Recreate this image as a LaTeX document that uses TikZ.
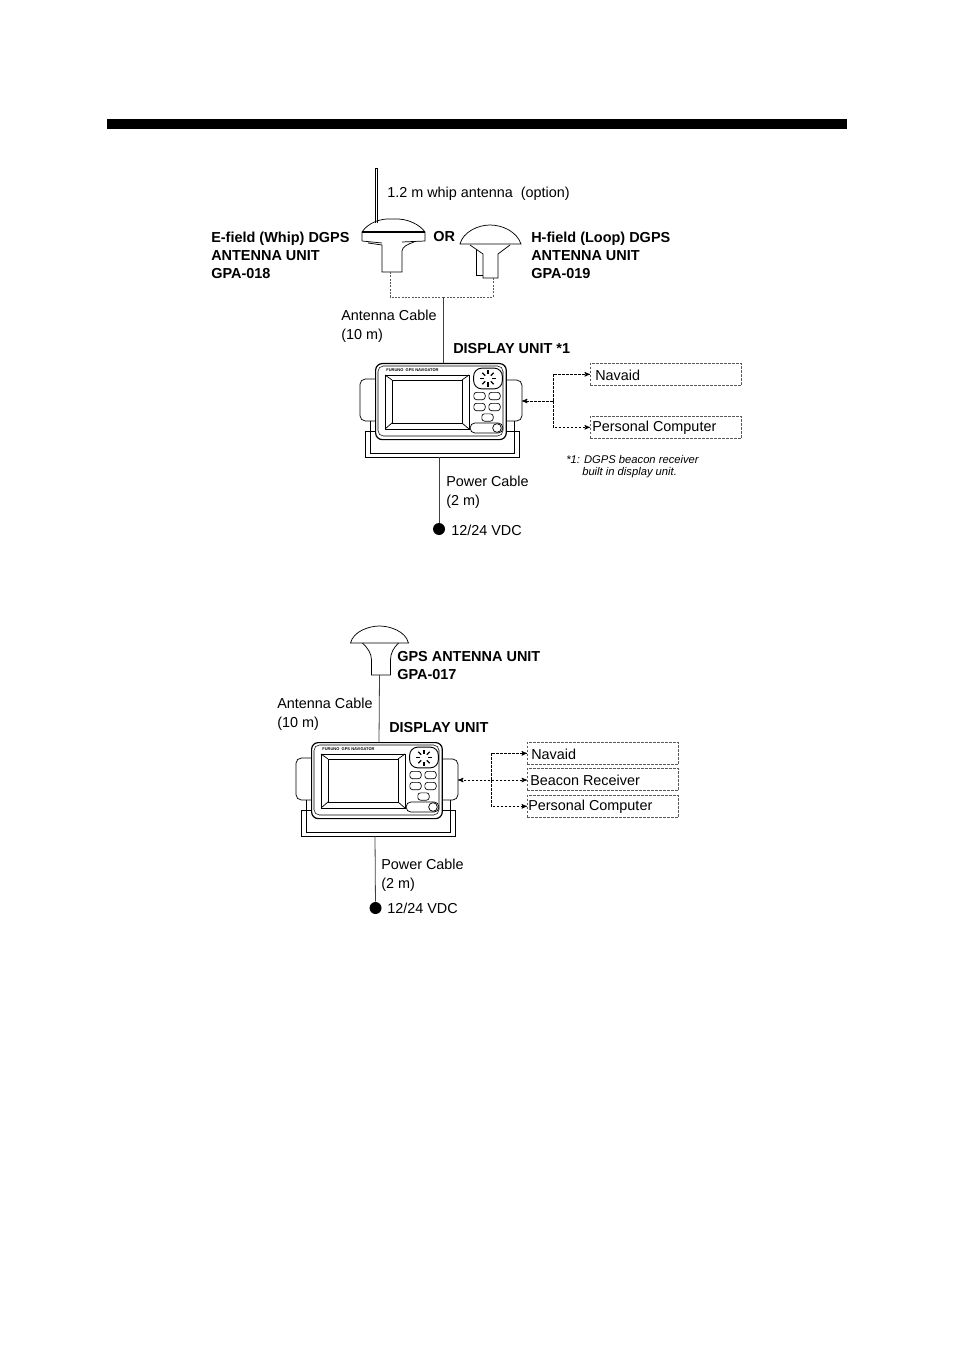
\documentclass[tikz,border=0pt]{standalone}
\usepackage{fontspec}
\setmainfont{Liberation Sans}
\usetikzlibrary{arrows,calc}
\tikzset{
	plain/.style={inner sep=0pt,anchor=west,font=\fontsize{10.8}{13.8}\selectfont},
	heavy/.style={plain,font=\fontsize{10.85}{13.5}\selectfont\bfseries,align=left},
	device/.style={black,line width=.55pt},
	cable/.style={black!75,line width=.6pt},
	dashcable/.style={black,line width=.55pt,dash pattern=on 2pt off 1pt},
	thincable/.style={black!65,line width=.5pt,dash pattern=on 1.5pt off 1pt},
	peripheral/.style={draw=black!65,dash pattern=on 2pt off 1pt,line width=.5pt,minimum width=113.5pt,minimum height=16.5pt,inner sep=0pt},
	key/.style={draw=black,rounded corners=2pt,line width=.5pt,minimum width=8.5pt,minimum height=5.5pt,inner sep=0pt}
}
% one display unit with its stand, #1 = origin, #2 = prefix of the names
\newcommand*\displayunit[2]{
	\begin{scope}[shift={#1},device]
		\draw[rounded corners=4pt] (0,16) -- (-15,16) -- (-15,58) -- (0,58);
		\draw[rounded corners=4pt] (131,17) -- (147,17) -- (147,58) -- (131,58);
		\draw (-10,68) rectangle (144,94);
		\draw (-5,58) -- (-5,90) -- (139,90) -- (139,58);
		\node (#2body) [draw=black,line width=.9pt,fill=white,rounded corners=5pt,inner sep=0pt,minimum width=98pt,minimum height=57pt,anchor=north west] at (0,0) {};
		\draw[rounded corners=4pt,line width=.4pt] (3,3) rectangle (128,73);
		\draw (10,12) rectangle (94,66);
		\draw (17,17) rectangle (87,60);
		\draw (10,12) -- (17,17) (94,12) -- (87,17) (10,66) -- (17,60) (94,66) -- (87,60);
		\node (#2brand) [inner sep=0pt,anchor=west,font=\fontsize{3}{3}\selectfont\bfseries] at (11,7) {FURUNO\ \ GPS NAVIGATOR};
		\node (#2dial) [draw=black,rounded corners=6pt,line width=.7pt,minimum width=21.5pt,minimum height=15.5pt,inner sep=0pt] at (113,15.5) {};
		\foreach \a in {0,45,...,315}
			\draw[line width=1pt] ($(113,15.5)+(\a:4)$) -- ($(113,15.5)+(\a:8)$);
		\node (#2keya) [key] at (104.5,33) {};
		\node (#2keyb) [key] at (119.5,33) {};
		\node (#2keyc) [key] at (104.5,44) {};
		\node (#2keyd) [key] at (119.5,44) {};
		\node (#2keye) [key] at (112.5,54.5) {};
		\node (#2pill) [draw=black,fill=white,rounded corners=3.5pt,minimum width=24.5pt,minimum height=7.5pt,inner sep=0pt] at (111.5,65) {};
		\node (#2power) [draw=black,circle,inner sep=0pt,minimum size=6.5pt] at (122,65) {};
		\coordinate (#2top) at (68,0);
		\coordinate (#2back) at (147,38);
		\coordinate (#2base) at (64,94);
	\end{scope}
}
% dome antenna, #1 = origin at the middle of the dome foot, #2 = name of the cable point
\newcommand*\domeantenna[2]{
	\begin{scope}[shift={#1},device]
		\draw (-29,0) .. controls (-26,-12) and (-10,-17) .. (0,-17) .. controls (10,-17) and (26,-12) .. (29,0) -- cycle;
		\draw (-17,0) .. controls (-12,5) and (-8,10) .. (-8,17) -- (-8,32) -- (11,32) -- (11,17) .. controls (11,10) and (14,5) .. (19,0);
		\coordinate (#2) at (0,32);
	\end{scope}
}
\begin{document}
\begin{tikzpicture}[x=.75pt,y=-.75pt,>=stealth']
	\useasboundingbox (0,0) rectangle (954,1351);
	\node (rule) [fill=black,inner sep=0pt,minimum width=555pt,minimum height=7.5pt,anchor=north west] at (107,119) {};

	% upper system
	\draw[device] (375.5,223) -- (375.5,168) -- (377.5,168) -- (377.5,223);
	\node (whiptext) [plain] at (387,194) {1.2 m whip antenna\ \ (option)};
	\draw[device] (362,241) -- (362,232) .. controls (368,223) and (380,218) .. (393,219) .. controls (408,218) and (420,225) .. (425,232) -- (425,241) -- (402,242);
	\draw[device,line width=.9pt] (362,232) -- (425,232);
	\draw[device] (362,241) -- (382,243) (368,243) -- (382,245);
	\draw[device] (382,245) -- (382,272) -- (402,272) -- (402,251) .. controls (402,247) and (408,244) .. (414,242);
	\coordinate (efoot) at (390,272);

	\draw[device] (460,244) .. controls (463,232) and (478,225) .. (490,225) .. controls (503,225) and (517,232) .. (521,244) -- cycle;
	\draw[device] (470,245) -- (483,254) -- (483,278) -- (498,278) -- (498,254) -- (510,245);
	\draw[device] (476,250) -- (476,275) -- (483,275);
	\coordinate (hfoot) at (493,278);
	\coordinate (split) at (443,297);

	\node (orword) [heavy,anchor=west] at (433,237) {OR};
	\node (eunit) [heavy,anchor=north west] at (211,232) {E-field (Whip) DGPS\\ANTENNA UNIT\\GPA-018};
	\node (hunit) [heavy,anchor=north west] at (531,232) {H-field (Loop) DGPS\\ANTENNA UNIT\\GPA-019};
	\node (cablea) [plain,align=left,anchor=north west] at (341,310) {Antenna Cable\\(10 m)};
	\node (displaya) [heavy] at (453,349) {DISPLAY UNIT *1};

	\displayunit{(375,363)}{a}
	\draw[thincable] (efoot) |- (split);
	\draw[thincable] (hfoot) |- (split);
	\draw[cable] (split) -- (atop);

	\node (navaida) [peripheral,anchor=north west] at (590,363) {};
	\node (navaidatext) [plain] at (595,375) {Navaid};
	\node (pca) [peripheral,anchor=north west] at (590,416) {};
	\node (pcatext) [plain] at (592,428) {Personal Computer};
	\coordinate (huba) at (553,401);
	\draw[dashcable,->] (huba) -- (aback);
	\draw[dashcable,->] (huba) |- (navaida.west);
	\draw[dashcable,->] (huba) |- (pca.west);
	\node (notea) [plain,anchor=north west,font=\fontsize{8.4}{9.4}\selectfont\itshape,align=left] at (566,455) {*1: DGPS beacon receiver\\\hspace*{12pt}built in display unit.};

	\node (powera) [plain,align=left,anchor=north west] at (446,476) {Power Cable\\(2 m)};
	\node (dota) [fill=black,circle,inner sep=0pt,minimum size=9pt] at (439,529) {};
	\draw[cable] (abase) -- (dota);
	\node (vdca) [plain] at (451,530) {12/24 VDC};

	% lower system
	\domeantenna{(379.5,643)}{gpsfoot}
	\node (gpsunit) [heavy,anchor=north west] at (397,651) {GPS ANTENNA UNIT\\GPA-017};
	\node (cableb) [plain,align=left,anchor=north west] at (277,698) {Antenna Cable\\(10 m)};
	\node (displayb) [heavy] at (389,728) {DISPLAY UNIT};

	\displayunit{(311,742)}{b}
	\draw[cable] (gpsfoot) -- (btop);

	\node (navaidb) [peripheral,anchor=north west] at (527,742) {};
	\node (navaidbtext) [plain] at (531,754) {Navaid};
	\node (beacon) [peripheral,anchor=north west] at (527,768) {};
	\node (beacontext) [plain] at (530,780) {Beacon Receiver};
	\node (pcb) [peripheral,anchor=north west] at (527,795) {};
	\node (pcbtext) [plain] at (528,807) {Personal Computer};
	\coordinate (hubb) at (491,780);
	\draw[dashcable,<->] (bback) -- (bback -| beacon.west);
	\draw[dashcable,->] (hubb) |- (navaidb.west);
	\draw[dashcable,->] (hubb) |- (pcb.west);

	\node (powerb) [plain,align=left,anchor=north west] at (381,859) {Power Cable\\(2 m)};
	\node (dotb) [fill=black,circle,inner sep=0pt,minimum size=9pt] at (375.5,908) {};
	\draw[cable] (bbase) -- (dotb);
	\node (vdcb) [plain] at (387,908) {12/24 VDC};
\end{tikzpicture}
\end{document}
